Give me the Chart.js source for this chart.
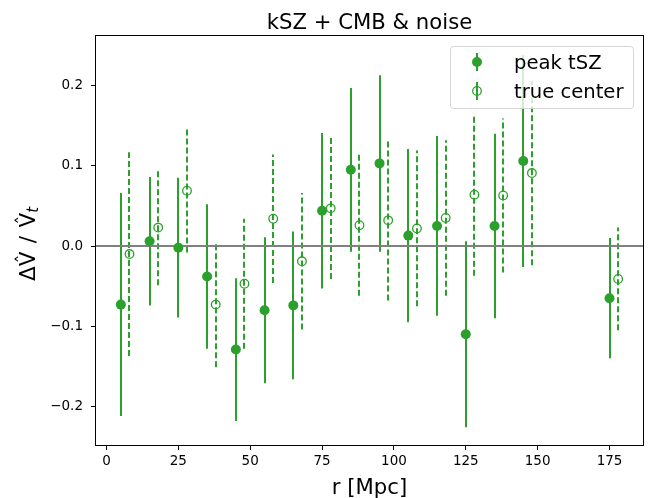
<!DOCTYPE html>
<html>
<head>
<meta charset="utf-8">
<script src="https://cdn.jsdelivr.net/npm/chart.js@4"></script>
<style>
html,body{margin:0;padding:0;background:#fff;}
#wrap{width:650px;height:498px;position:relative;}
</style>
</head>
<body>
<div id="wrap"><canvas id="c" width="650" height="498"></canvas></div>
<script>
// ---- data ----
const xPeak = [5, 15, 25, 35, 45, 55, 65, 75, 85, 95, 105, 115, 125, 135, 145, 175];
const yPeak = [-0.073, 0.006, -0.002, -0.038, -0.129, -0.080, -0.074, 0.044, 0.095, 0.103, 0.013, 0.025, -0.110, 0.025, 0.106, -0.065];
const errPeak = [0.139, 0.080, 0.087, 0.090, 0.089, 0.091, 0.092, 0.097, 0.102, 0.110, 0.108, 0.112, 0.116, 0.115, 0.132, 0.075];

const xTrue = [8, 18, 28, 38, 48, 58, 68, 78, 88, 98, 108, 118, 128, 138, 148, 178];
const yTrue = [-0.010, 0.023, 0.069, -0.073, -0.047, 0.034, -0.019, 0.047, 0.026, 0.032, 0.022, 0.035, 0.064, 0.063, 0.091, -0.041];
const errTrue = [0.127, 0.072, 0.077, 0.078, 0.081, 0.080, 0.085, 0.088, 0.088, 0.100, 0.097, 0.097, 0.101, 0.096, 0.115, 0.064];

const xTicks = [0, 25, 50, 75, 100, 125, 150, 175];
const yTicks = [-0.2, -0.1, 0.0, 0.1, 0.2];

const seriesNames = ['peak tSZ', 'true center'];
const titleText = 'kSZ + CMB & noise';
const xLabel = 'r [Mpc]';

const GREEN = '#2ca02c';
const FONT = '"DejaVu Sans", sans-serif';

const errorBars = {
  id: 'errorBars',
  beforeDatasetsDraw(chart) {
    const {ctx, chartArea: a, scales: {x, y}} = chart;
    ctx.save();
    ctx.beginPath();
    ctx.rect(a.left, a.top, a.right - a.left, a.bottom - a.top);
    ctx.clip();
    ctx.strokeStyle = GREEN;
    ctx.lineWidth = 2;
    ctx.lineCap = 'butt';
    const drawSet = (xs, ys, es, dash) => {
      ctx.setLineDash(dash);
      for (let i = 0; i < xs.length; i++) {
        const px = Math.round(x.getPixelForValue(xs[i]));
        const lo = y.getPixelForValue(ys[i] - es[i]);
        const hi = y.getPixelForValue(ys[i] + es[i]);
        ctx.beginPath();
        ctx.moveTo(px, lo);
        ctx.lineTo(px, hi);
        ctx.stroke();
      }
    };
    drawSet(xPeak, yPeak, errPeak, []);
    drawSet(xTrue, yTrue, errTrue, [6, 3]);
    ctx.setLineDash([]);
    // zero line
    const y0 = y.getPixelForValue(0);
    ctx.strokeStyle = '#808080';
    ctx.lineWidth = 2;
    ctx.beginPath();
    ctx.moveTo(a.left, y0);
    ctx.lineTo(a.right, y0);
    ctx.stroke();
    ctx.restore();
  },
  afterDraw(chart) {
    const {ctx, chartArea: a} = chart;
    ctx.save();
    // frame
    ctx.strokeStyle = '#000';
    ctx.lineWidth = 1;
    ctx.strokeRect(Math.round(a.left) - 0.5, Math.round(a.top) - 0.5, Math.round(a.right - a.left) + 1, Math.round(a.bottom - a.top) + 1);
    // title
    ctx.fillStyle = '#000';
    ctx.textAlign = 'center';
    ctx.textBaseline = 'alphabetic';
    ctx.font = '21.2px ' + FONT;
    const cx = (a.left + a.right) / 2;
    ctx.fillText(titleText, cx, 29);
    // x label
    ctx.fillText(xLabel, cx, 494);
    // y label (rotated): Δ V^ / V^ _t
    ctx.save();
    ctx.translate(35, 244);
    ctx.rotate(-Math.PI / 2);
    ctx.textAlign = 'left';
    const big = '21.5px ' + FONT;
    const small = 'italic 15px ' + FONT;
    ctx.font = big;
    const wD = ctx.measureText('\u0394').width;
    const wV = ctx.measureText('V').width;
    const wS = ctx.measureText(' / ').width * 1.15;
    ctx.font = small;
    const wt = ctx.measureText('t').width;
    const total = wD + wV + wS + wV + wt;
    let px = -total / 2;
    ctx.font = big;
    ctx.fillText('\u0394', px, 0); px += wD;
    const drawVHat = (p) => {
      ctx.font = big;
      ctx.fillText('V', p, 0);
      ctx.textAlign = 'center';
      ctx.font = '17px ' + FONT;
      ctx.fillText('\u02C6', p + wV / 2, -6);
      ctx.textAlign = 'left';
      ctx.font = big;
    };
    drawVHat(px); px += wV;
    ctx.fillText('/', px + (wS - ctx.measureText('/').width) / 2, 0); px += wS;
    drawVHat(px); px += wV;
    ctx.font = small;
    ctx.fillText('t', px, 3);
    ctx.restore();

    // legend
    const L = 450, T = 46, R = 633, B = 108;
    ctx.beginPath();
    ctx.roundRect(L + 0.5, T + 0.5, R - L, B - T, 3);
    ctx.fillStyle = 'rgba(255,255,255,0.8)';
    ctx.fill();
    ctx.strokeStyle = 'rgba(204,204,204,0.8)';
    ctx.lineWidth = 1;
    ctx.stroke();
    const hx = 477;
    const rows = [62, 91];
    rows.forEach((cy, k) => {
      ctx.strokeStyle = GREEN;
      ctx.lineWidth = 2;
      ctx.beginPath();
      ctx.moveTo(hx, cy - 9);
      ctx.lineTo(hx, cy + 9);
      ctx.stroke();
      ctx.beginPath();
      ctx.arc(hx, cy, k === 0 ? 5 : 4.3, 0, Math.PI * 2);
      if (k === 0) {
        ctx.fillStyle = GREEN;
        ctx.fill();
      } else {
        ctx.fillStyle = '#fff';
        ctx.fill();
        ctx.lineWidth = 1.3;
        ctx.stroke();
        ctx.beginPath();
        ctx.lineWidth = 2;
        ctx.moveTo(hx, cy - 4.3);
        ctx.lineTo(hx, cy + 4.3);
        ctx.stroke();
      }
      ctx.fillStyle = '#000';
      ctx.textAlign = 'left';
      ctx.textBaseline = 'alphabetic';
      ctx.font = '19.6px ' + FONT;
      ctx.fillText(seriesNames[k], 514, cy + 7);
    });
    ctx.restore();
  }
};

const fmtY = v => {
  const s = (Math.abs(v) < 1e-9 ? 0 : v).toFixed(1);
  return s.replace('-', '\u2212');
};

new Chart(document.getElementById('c'), {
  type: 'scatter',
  data: {
    datasets: [
      {
        label: seriesNames[0],
        data: xPeak.map((v, i) => ({x: v, y: yPeak[i]})),
        pointRadius: 5,
        pointBackgroundColor: GREEN,
        pointBorderColor: GREEN,
        pointBorderWidth: 0,
        showLine: false
      },
      {
        label: seriesNames[1],
        data: xTrue.map((v, i) => ({x: v, y: yTrue[i]})),
        pointRadius: 4.3,
        pointBackgroundColor: 'rgba(0,0,0,0)',
        pointBorderColor: GREEN,
        pointBorderWidth: 1.3,
        showLine: false
      }
    ]
  },
  options: {
    responsive: false,
    animation: false,
    events: [],
    layout: {padding: {left: 0, right: 7, top: 36, bottom: 0}},
    plugins: {legend: {display: false}, tooltip: {enabled: false}, title: {display: false}},
    scales: {
      x: {
        type: 'linear',
        min: -3.65,
        max: 186.65,
        afterBuildTicks: s => { s.ticks = xTicks.map(v => ({value: v})); },
        afterFit: s => { s.height = 53; },
        ticks: {font: {family: FONT, size: 13.5}, color: '#000', padding: 3, maxRotation: 0, autoSkip: false},
        grid: {drawOnChartArea: false, drawTicks: true, tickLength: 5, color: '#000', tickWidth: 1},
        border: {display: false}
      },
      y: {
        type: 'linear',
        min: -0.248,
        max: 0.2618,
        afterBuildTicks: s => { s.ticks = yTicks.map(v => ({value: v})); },
        afterFit: s => { s.width = 96; },
        ticks: {font: {family: FONT, size: 13.5}, color: '#000', padding: 8, callback: fmtY, autoSkip: false},
        grid: {drawOnChartArea: false, drawTicks: true, tickLength: 5, color: '#000', tickWidth: 1},
        border: {display: false}
      }
    }
  },
  plugins: [errorBars]
});
</script>
</body>
</html>
